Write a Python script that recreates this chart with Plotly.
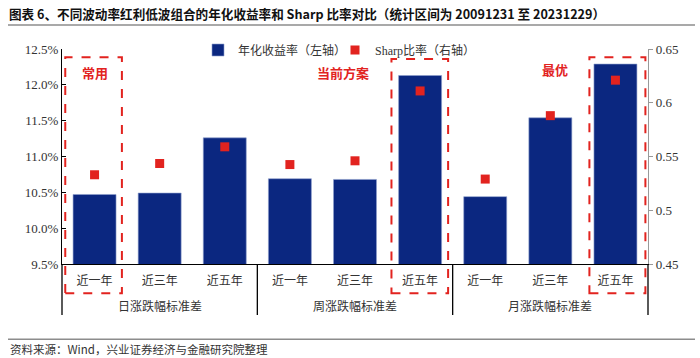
import plotly.graph_objects as go

# ---- data ----
periods = ["近一年", "近三年", "近五年", "近一年", "近三年", "近五年", "近一年", "近三年", "近五年"]
groups = ["日涨跌幅标准差", "周涨跌幅标准差", "月涨跌幅标准差"]
annual_return = [0.1047, 0.1049, 0.1126, 0.1069, 0.1068, 0.1213, 0.1044, 0.1154, 0.1229]
sharpe = [0.533, 0.5435, 0.559, 0.5425, 0.546, 0.611, 0.529, 0.588, 0.621]
highlight_idx = [0, 5, 8]
highlight_text = ["常用", "当前方案", "最优"]
left_ticks = [0.095, 0.100, 0.105, 0.110, 0.115, 0.120, 0.125]
right_ticks = [0.45, 0.50, 0.55, 0.60, 0.65]

title_text = "图表 6、不同波动率红利低波组合的年化收益率和 Sharp 比率对比（统计区间为 20091231 至 20231229）"
source_text = "资料来源：Wind，兴业证券经济与金融研究院整理"

BLUE = "#0B2780"
RED = "#E2231F"
SERIF = "Liberation Serif, Times New Roman, Noto Sans CJK SC, serif"
CJK = "Noto Sans CJK SC, sans-serif"

x = list(range(len(periods)))
n = len(periods)

fig = go.Figure()
fig.add_trace(go.Bar(
    x=x, y=annual_return, name="年化收益率（左轴）",
    marker=dict(color=BLUE, line=dict(color="#8FA0CC", width=0.6)),
    width=0.66, yaxis="y",
))
fig.add_trace(go.Scatter(
    x=x, y=sharpe, name="Sharp比率（右轴）", mode="markers",
    marker=dict(symbol="square", size=9, color=RED), yaxis="y2",
))

# plot area geometry (pixels)
L, R, T, B = 62, 52, 49, 94
W, H = 700, 358
pw, ph = W - L - R, H - T - B

def py(pix):
    return (H - B - pix) / ph

def px(pix):
    return (pix - L) / pw

shapes = []
# dashed highlight boxes
box_offsets = {0: (-0.45, 0.42), 5: (-0.44, 0.43), 8: (-0.40, 0.46)}
box_tops = {0: 57.3, 5: 59, 8: 57.3}
for i in highlight_idx:
    a, b = box_offsets[i]
    shapes.append(dict(type="rect", xref="x", yref="paper",
                       x0=x[i] + a, x1=x[i] + b, y0=py(293.3), y1=py(box_tops[i]),
                       line=dict(color=RED, width=2, dash="dash"), layer="above"))
# group dividers
gsize = n // len(groups)
for k in range(len(groups) + 1):
    xv = k * gsize / n
    shapes.append(dict(type="line", xref="paper", yref="paper",
                       x0=xv, x1=xv, y0=0, y1=py(315),
                       line=dict(color="black", width=1.3)))
# title and source rules
shapes.append(dict(type="line", xref="paper", yref="paper",
                   x0=px(8), x1=px(695), y0=py(25), y1=py(25),
                   line=dict(color="#8C8C8C", width=1.5)))
shapes.append(dict(type="line", xref="paper", yref="paper",
                   x0=px(8), x1=px(695), y0=py(339.3), y1=py(339.3),
                   line=dict(color="#8C8C8C", width=1.5)))

annotations = []
hl_pos = [(x[0], 72.7), (3.81, 72.3), (7.07, 69)]
for (xx, yy), t in zip(hl_pos, highlight_text):
    annotations.append(dict(x=xx, y=py(yy), xref="x", yref="paper", text="<b>%s</b>" % t,
                            showarrow=False, font=dict(family=CJK, size=13, color=RED),
                            xanchor="center", yanchor="middle"))
for k, g in enumerate(groups):
    annotations.append(dict(x=(k + 0.5) * gsize / n, y=py(305), xref="paper", yref="paper",
                            text=g, showarrow=False,
                            font=dict(family=CJK, size=12, color="#333333"),
                            xanchor="center", yanchor="middle"))
annotations.append(dict(x=px(7), y=py(13), xref="paper", yref="paper",
                        text="<b>%s</b>" % title_text, showarrow=False,
                        font=dict(family=CJK, size=12.6, color="#111111"),
                        xanchor="left", yanchor="middle"))
annotations.append(dict(x=px(8), y=py(349), xref="paper", yref="paper",
                        text=source_text, showarrow=False,
                        font=dict(family=CJK, size=11.5, color="#333333"),
                        xanchor="left", yanchor="middle"))

fig.update_layout(
    width=W, height=H,
    margin=dict(l=L, r=R, t=T, b=B, pad=0),
    paper_bgcolor="white", plot_bgcolor="white",
    showlegend=True,
    legend=dict(orientation="h", x=px(198), y=py(50), xanchor="left", yanchor="middle",
                font=dict(family=SERIF, size=12, color="#333333"),
                bgcolor="rgba(0,0,0,0)", itemwidth=30, tracegroupgap=0,
                entrywidth=92, entrywidthmode="pixels"),
    xaxis=dict(range=[-0.5, n - 0.5], tickmode="array", tickvals=x, ticktext=periods,
               showgrid=False, zeroline=False, showline=True, linecolor="black", linewidth=1.3,
               ticks="outside", ticklen=5, tickcolor="rgba(0,0,0,0)",
               tickfont=dict(family=CJK, size=12, color="#333333")),
    yaxis=dict(range=[left_ticks[0], left_ticks[-1]], tickmode="array", tickvals=left_ticks,
               tickformat=".1%", showgrid=False, zeroline=False, showline=True,
               linecolor="black", linewidth=1.3, ticks="inside", ticklen=4, tickcolor="black",
               tickfont=dict(family=SERIF, size=13, color="#333333")),
    yaxis2=dict(range=[right_ticks[0], right_ticks[-1]], tickmode="array", tickvals=right_ticks,
                ticktext=[("%.2f" % v).rstrip("0") for v in right_ticks],
                overlaying="y", side="right", showgrid=False, zeroline=False, showline=True,
                linecolor="#999999", linewidth=1.3, ticks="outside", ticklen=4, tickcolor="#999999",
                tickfont=dict(family=SERIF, size=13, color="#333333")),
    shapes=shapes, annotations=annotations, bargap=0.34,
)

fig.write_html("out.html", config={"displayModeBar": False},
               post_script="document.body.style.margin='0px';document.body.style.overflow='hidden';")
